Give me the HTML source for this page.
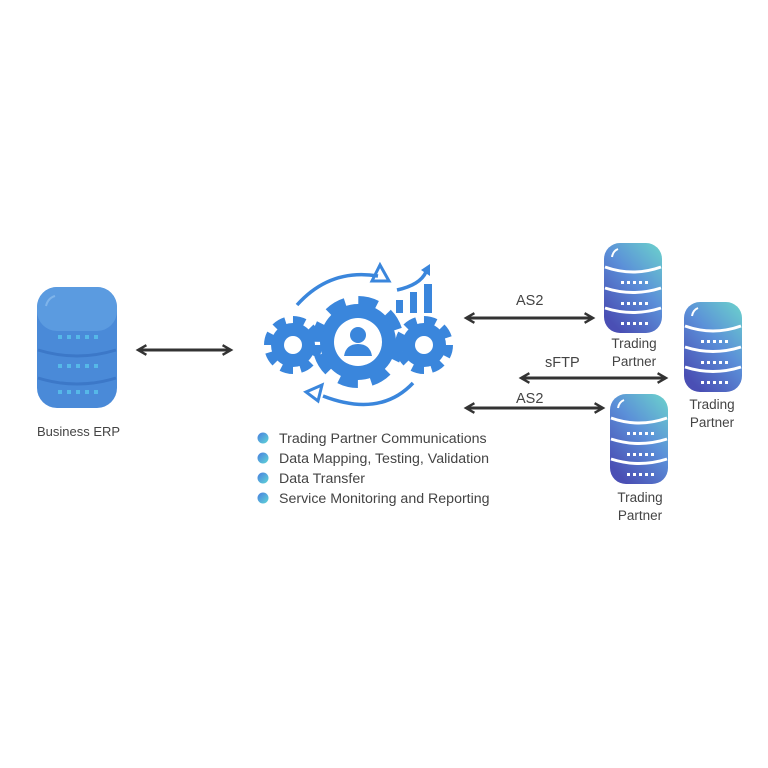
<!DOCTYPE html>
<html><head><style>body{margin:0;background:#fff}svg{display:block}text{font-family:"Liberation Sans",sans-serif;fill:#444}</style></head><body>
<svg width="768" height="768" viewBox="0 0 768 768">
<defs>
<linearGradient id="g" x1="1" y1="0" x2="0.3" y2="1"><stop offset="0" stop-color="#6cd3cc"/><stop offset="0.5" stop-color="#5b8fd8"/><stop offset="1" stop-color="#4a4fb4"/></linearGradient>
<linearGradient id="b" x1="1" y1="1" x2="0" y2="0"><stop offset="0" stop-color="#5fd5d6"/><stop offset="1" stop-color="#4a7fe0"/></linearGradient>
<marker id="a" viewBox="0 0 10 10" refX="8" refY="5" markerWidth="4" markerHeight="4" orient="auto-start-reverse"><path d="M1,1 L8,5 L1,9" fill="none" stroke="#333" stroke-width="2"/></marker>
<g id="db">
<rect x="0" y="0" width="58" height="90" rx="16" fill="url(#g)"/>
<path d="M1,24 Q29,34 57,24 M1,45 Q29,54 57,45 M1,65 Q29,74 57,65" stroke="#fff" stroke-width="3" fill="none"/>
<path d="M8,14 Q9,8 14,6" stroke="#fff" stroke-width="2" fill="none"/>
<g fill="#fff"><rect x="17" y="38" width="3" height="3"/><rect x="23" y="38" width="3" height="3"/><rect x="29" y="38" width="3" height="3"/><rect x="35" y="38" width="3" height="3"/><rect x="41" y="38" width="3" height="3"/>
<rect x="17" y="59" width="3" height="3"/><rect x="23" y="59" width="3" height="3"/><rect x="29" y="59" width="3" height="3"/><rect x="35" y="59" width="3" height="3"/><rect x="41" y="59" width="3" height="3"/>
<rect x="17" y="79" width="3" height="3"/><rect x="23" y="79" width="3" height="3"/><rect x="29" y="79" width="3" height="3"/><rect x="35" y="79" width="3" height="3"/><rect x="41" y="79" width="3" height="3"/></g>
</g>
</defs>
<!-- ERP -->
<rect x="37" y="287" width="80" height="121" rx="20" fill="#4a8ad8"/>
<rect x="37" y="287" width="80" height="44" rx="20" fill="#5b9be0"/>
<path d="M38,350 Q77,362 116,350 M38,378 Q77,390 116,378" stroke="#3c78c8" stroke-width="3" fill="none"/>
<path d="M46,306 Q48,298 55,296" stroke="#7fb4ea" stroke-width="2" fill="none"/>
<g fill="#56b8e8"><rect x="58" y="335" width="4" height="4"/><rect x="67" y="335" width="4" height="4"/><rect x="76" y="335" width="4" height="4"/><rect x="85" y="335" width="4" height="4"/><rect x="94" y="335" width="4" height="4"/>
<rect x="58" y="364" width="4" height="4"/><rect x="67" y="364" width="4" height="4"/><rect x="76" y="364" width="4" height="4"/><rect x="85" y="364" width="4" height="4"/><rect x="94" y="364" width="4" height="4"/>
<rect x="58" y="390" width="4" height="4"/><rect x="67" y="390" width="4" height="4"/><rect x="76" y="390" width="4" height="4"/><rect x="85" y="390" width="4" height="4"/><rect x="94" y="390" width="4" height="4"/></g>
<text x="37" y="436" font-size="13">Business ERP</text>
<!-- arrows -->
<g stroke="#333" stroke-width="3" marker-start="url(#a)" marker-end="url(#a)">
<line x1="138" y1="350" x2="231" y2="350"/>
<line x1="466" y1="318" x2="593" y2="318"/>
<line x1="521" y1="378" x2="666" y2="378"/>
<line x1="466" y1="408" x2="603" y2="408"/>
</g>
<text x="516" y="305" font-size="14.5">AS2</text>
<text x="545" y="367" font-size="14.5">sFTP</text>
<text x="516" y="403" font-size="14.5">AS2</text>
<!-- gears -->
<g fill="#3a86dc">
<circle cx="358" cy="342" r="38"/>
<circle cx="358" cy="342" r="41" fill="none" stroke="#3a86dc" stroke-width="10" stroke-dasharray="19 13.2"/>
<circle cx="293" cy="345" r="22"/>
<circle cx="293" cy="345" r="25" fill="none" stroke="#3a86dc" stroke-width="8" stroke-dasharray="12 7.6"/>
<circle cx="424" cy="345" r="22"/>
<circle cx="424" cy="345" r="25" fill="none" stroke="#3a86dc" stroke-width="8" stroke-dasharray="12 7.6"/>
<circle cx="358" cy="342" r="24" fill="#fff"/>
<circle cx="293" cy="345" r="9" fill="#fff"/>
<circle cx="424" cy="345" r="9" fill="#fff"/>
<circle cx="358" cy="335" r="8"/>
<path d="M344,356 Q346,344 358,344 Q370,344 372,356 Z"/>
<rect x="396" y="300" width="7" height="13"/><rect x="410" y="292" width="7" height="21"/><rect x="424" y="284" width="8" height="29"/>
</g>
<g fill="none" stroke="#3a86dc" stroke-width="3.5">
<path d="M297,305 Q330,268 378,276"/>
<path d="M413,383 Q380,418 323,396"/>
<path d="M397,290 Q420,285 426,272"/>
<path d="M380,265 L389,281 L372,281 Z" stroke-width="3"/>
<path d="M306,392 L322,385 L318,401 Z" stroke-width="3"/>
</g>
<path d="M421,270 L430,264 L430,276 Z" fill="#3a86dc"/>
<!-- list -->
<g font-size="14.2">
<circle cx="263" cy="438" r="5.5" fill="url(#b)"/><text x="279" y="443">Trading Partner Communications</text>
<circle cx="263" cy="458" r="5.5" fill="url(#b)"/><text x="279" y="463">Data Mapping, Testing, Validation</text>
<circle cx="263" cy="478" r="5.5" fill="url(#b)"/><text x="279" y="483">Data Transfer</text>
<circle cx="263" cy="498" r="5.5" fill="url(#b)"/><text x="279" y="503">Service Monitoring and Reporting</text>
</g>
<!-- partners -->
<use href="#db" x="604" y="243"/>
<use href="#db" x="684" y="302"/>
<use href="#db" x="610" y="394"/>
<g font-size="13.5" text-anchor="middle">
<text x="634" y="348">Trading</text><text x="634" y="366">Partner</text>
<text x="712" y="409">Trading</text><text x="712" y="427">Partner</text>
<text x="640" y="502">Trading</text><text x="640" y="520">Partner</text>
</g>
</svg>
</body></html>
